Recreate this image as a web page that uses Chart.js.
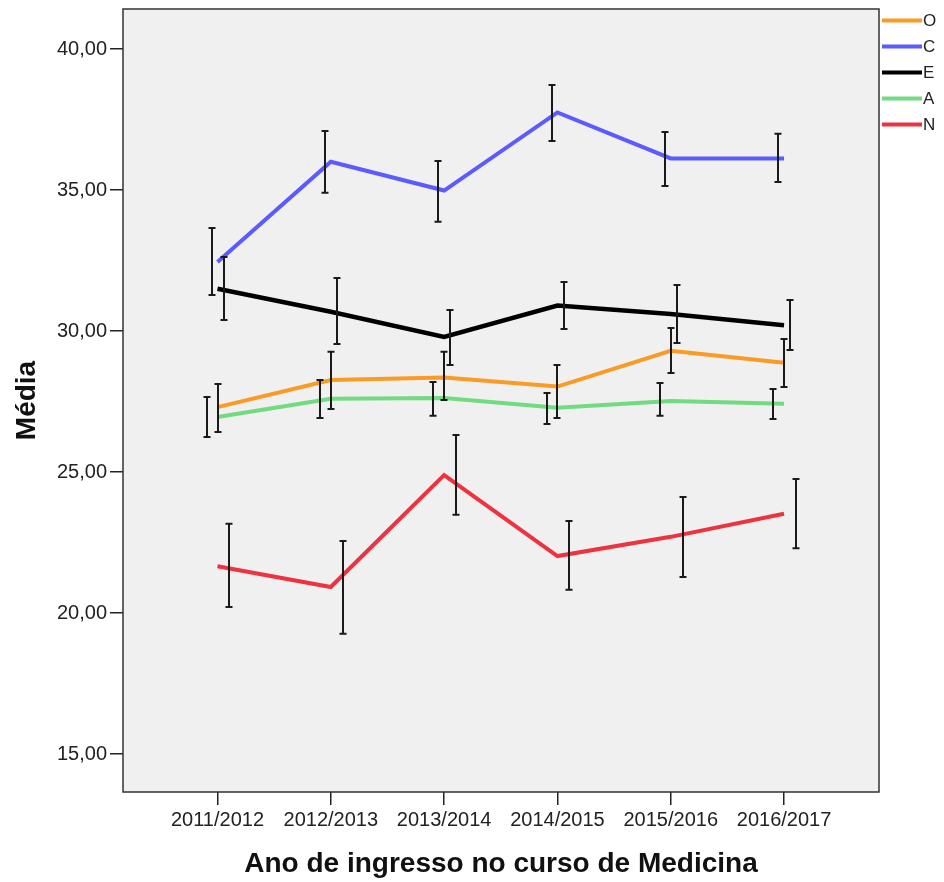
<!DOCTYPE html>
<html>
<head>
<meta charset="utf-8">
<script src="https://cdn.jsdelivr.net/npm/chart.js@4.4.1/dist/chart.umd.min.js"></script>
<style>
html,body{margin:0;padding:0;background:#fff;}
canvas{display:block;}
</style>
</head>
<body>
<canvas id="c" width="944" height="882"></canvas>
<script>
// ---- data ----
const categories = ['2011/2012','2012/2013','2013/2014','2014/2015','2015/2016','2016/2017'];
const yTicks = [15, 20, 25, 30, 35, 40];
const seriesNames = ['O','C','E','A','N'];

const meanO = [27.30, 28.26, 28.35, 28.03, 29.30, 28.87];
const meanC = [32.45, 36.00, 34.98, 37.75, 36.12, 36.12];
const meanE = [31.50, 30.68, 29.79, 30.90, 30.60, 30.20];
const meanA = [26.95, 27.60, 27.62, 27.28, 27.52, 27.42];
const meanN = [21.66, 20.92, 24.89, 22.02, 22.70, 23.52];

const lowO = [26.42, 27.23, 27.55, 26.91, 28.51, 28.01];
const highO = [28.12, 29.26, 29.26, 28.79, 30.11, 29.72];
const lowC = [31.28, 34.90, 33.87, 36.74, 35.14, 35.28];
const highC = [33.65, 37.09, 36.03, 38.72, 37.06, 36.99];
const lowE = [30.39, 29.54, 28.79, 30.07, 29.57, 29.33];
const highE = [32.62, 31.88, 30.74, 31.74, 31.63, 31.10];
const lowA = [26.24, 26.91, 26.99, 26.70, 26.99, 26.88];
const highA = [27.66, 28.26, 28.19, 27.80, 28.16, 27.94];
const lowN = [20.21, 19.26, 23.48, 20.82, 21.28, 22.30];
const highN = [23.16, 22.55, 26.31, 23.26, 24.11, 24.75];

// ---- styles ----
const colors = ['#F99B25', '#5B5BFF', '#000000', '#72DB80', '#EE3340'];
const lineWidths = [4, 4, 4.5, 4, 4];
const errOffset = [0, -0.05, 0.055, -0.095, 0.105]; // category units
const means = [meanO, meanC, meanE, meanA, meanN];
const lows = [lowO, lowC, lowE, lowA, lowN];
const highs = [highO, highC, highE, highA, highN];

const FONT = "Arial, 'Liberation Sans', sans-serif";

const datasets = seriesNames.map((name, s) => ({
  label: name,
  data: means[s].map((v, i) => ({x: i, y: v})),
  borderColor: colors[s],
  backgroundColor: colors[s],
  borderWidth: lineWidths[s],
  pointRadius: 0,
  tension: 0,
  fill: false,
  borderCapStyle: 'butt',
  borderJoinStyle: 'miter'
}));

const plotBg = {
  id: 'plotBg',
  beforeDraw(chart) {
    const {ctx, chartArea: a} = chart;
    ctx.save();
    ctx.fillStyle = '#F0F0F0';
    ctx.fillRect(a.left, a.top, a.right - a.left, a.bottom - a.top);
    ctx.restore();
  },
  afterDraw(chart) {
    const {ctx, chartArea: a} = chart;
    ctx.save();
    ctx.strokeStyle = '#333';
    ctx.lineWidth = 1.5;
    ctx.strokeRect(a.left, a.top, a.right - a.left, a.bottom - a.top);
    ctx.restore();
  }
};

const errorBars = {
  id: 'errorBars',
  afterDatasetsDraw(chart) {
    const {ctx, scales: {x, y}} = chart;
    ctx.save();
    ctx.strokeStyle = '#1a1a1a';
    ctx.lineWidth = 2;
    for (let s = 0; s < seriesNames.length; s++) {
      for (let i = 0; i < categories.length; i++) {
        const px = Math.round(x.getPixelForValue(i + errOffset[s]));
        const y1 = y.getPixelForValue(highs[s][i]);
        const y2 = y.getPixelForValue(lows[s][i]);
        ctx.beginPath();
        ctx.moveTo(px, y1); ctx.lineTo(px, y2);
        ctx.moveTo(px - 3.5, y1); ctx.lineTo(px + 3.5, y1);
        ctx.moveTo(px - 3.5, y2); ctx.lineTo(px + 3.5, y2);
        ctx.stroke();
      }
    }
    ctx.restore();
  }
};

const customLegend = {
  id: 'customLegend',
  afterDraw(chart) {
    const {ctx, chartArea: a} = chart;
    ctx.save();
    ctx.font = '17px ' + FONT;
    ctx.textBaseline = 'middle';
    ctx.textAlign = 'left';
    chart.data.datasets.forEach((ds, s) => {
      const yy = 20.5 + 26 * s;
      ctx.strokeStyle = ds.borderColor;
      ctx.lineWidth = 4;
      ctx.beginPath();
      ctx.moveTo(a.right + 3, yy);
      ctx.lineTo(a.right + 43, yy);
      ctx.stroke();
      ctx.fillStyle = '#222';
      ctx.fillText(ds.label, a.right + 44, yy + 1);
    });
    ctx.restore();
  }
};

new Chart(document.getElementById('c'), {
  type: 'line',
  data: { datasets },
  plugins: [plotBg, errorBars, customLegend],
  options: {
    responsive: false,
    animation: false,
    devicePixelRatio: 1,
    layout: { autoPadding: false, padding: { top: 9, right: 65, left: 0, bottom: 0 } },
    plugins: { legend: { display: false }, tooltip: { enabled: false } },
    scales: {
      x: {
        type: 'linear',
        min: -0.834,
        max: 5.838,
        afterBuildTicks(axis) { axis.ticks = categories.map((c, i) => ({value: i})); },
        afterFit(scale) { scale.height = 90; scale.paddingLeft = 0; scale.paddingRight = 0; },
        ticks: {
          autoSkip: false,
          maxRotation: 0,
          padding: 3,
          color: '#222',
          font: { family: FONT, size: 20 },
          callback: (v) => categories[v]
        },
        grid: { drawOnChartArea: false, drawTicks: true, tickLength: 13, color: '#222', lineWidth: 1.5 },
        border: { display: false },
        title: {
          display: true,
          text: 'Ano de ingresso no curso de Medicina',
          color: '#111',
          font: { family: FONT, size: 28, weight: 'bold' },
          padding: { top: 0, bottom: 1 }
        }
      },
      y: {
        type: 'linear',
        min: 13.652,
        max: 41.418,
        afterBuildTicks(axis) { axis.ticks = yTicks.map(v => ({value: v})); },
        afterFit(scale) { scale.width = 123; scale.paddingTop = 0; scale.paddingBottom = 0; },
        ticks: {
          padding: 3,
          color: '#222',
          font: { family: FONT, size: 20 },
          callback: (v) => v.toFixed(2).replace('.', ',')
        },
        grid: { drawOnChartArea: false, drawTicks: true, tickLength: 13, color: '#222', lineWidth: 1.5 },
        border: { display: false },
        title: {
          display: true,
          text: 'Média',
          color: '#111',
          font: { family: FONT, size: 28, weight: 'bold' },
          padding: { top: 10, bottom: 0 }
        }
      }
    }
  }
});
</script>
</body>
</html>
